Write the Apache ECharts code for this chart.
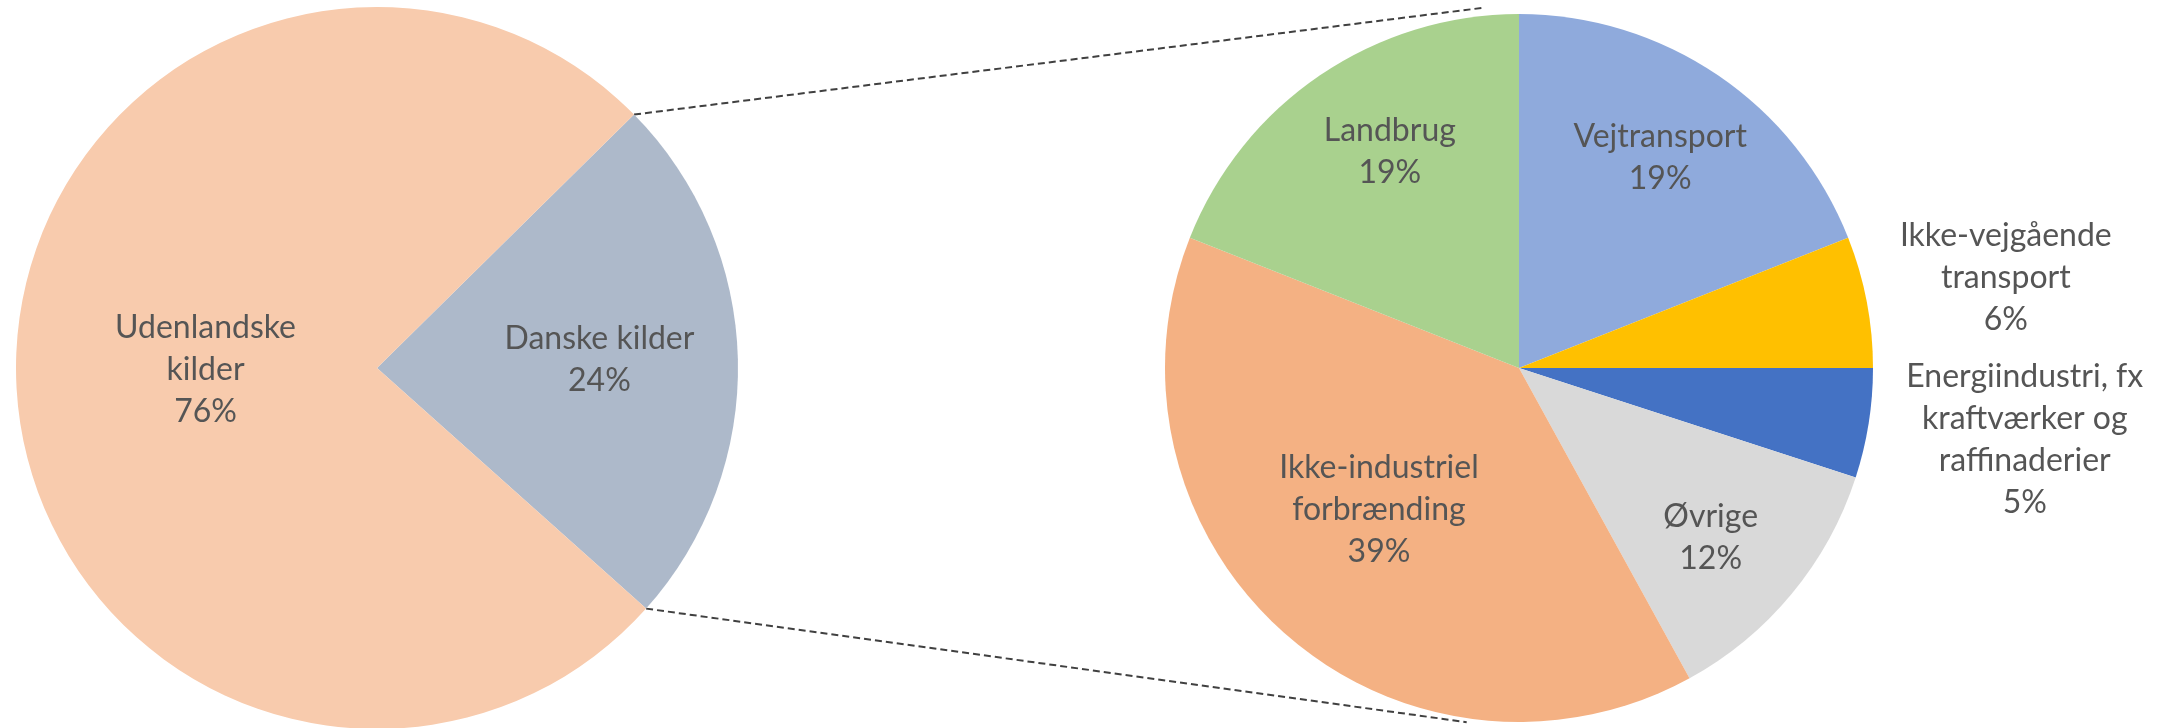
<!DOCTYPE html>
<html>
<head>
<meta charset="utf-8">
<script src="https://cdn.jsdelivr.net/npm/echarts@6/dist/echarts.min.js"></script>
<style>
html,body{margin:0;padding:0;background:#fff;}
#chart{width:2165px;height:728px;}
</style>
</head>
<body>
<div id="chart"></div>
<script>
// ---- data ----
const mainCategories = ['Danske kilder', 'Udenlandske\nkilder'];
const mainValues = [24, 76];
const subCategories = ['Vejtransport', 'Ikke-vejgående\ntransport', 'Energiindustri, fx\nkraftværker og\nraffinaderier', 'Øvrige', 'Ikke-industriel\nforbrænding', 'Landbrug'];
const subValues = [19, 6, 5, 12, 39, 19];

// ---- style ----
const mainColors = ['#ADB9CA', '#F8CBAD'];
const subColors = ['#8FAADC', '#FFC000', '#4472C4', '#D9D9D9', '#F4B183', '#A9D18E'];
const mainLabelShift = [[39, -4], [12, -3]];
const subLabelShift = [[40, -61], [310, -57], [328, 44], [53, 55], [-21, 7], [-28, -67]];
const mainCenter = [377, 368], mainRadius = 361, mainStart = 44.6;
const subCenter = [1519, 368], subRadius = 354;

const labelStyle = {
  show: true,
  position: 'inside',
  color: '#555555',
  fontFamily: 'Lato',
  fontSize: 32,
  lineHeight: 42,
  align: 'center',
  formatter: p => p.name + '\n' + p.value + '%'
};

function pt(c, r, deg) {
  const a = deg * Math.PI / 180;
  return [c[0] + r * Math.cos(a), c[1] - r * Math.sin(a)];
}
const mainTotal = mainValues.reduce((a, b) => a + b, 0);
const danskeSweep = mainValues[0] / mainTotal * 360;
const upStart = pt(mainCenter, mainRadius, mainStart);
const lowStart = pt(mainCenter, mainRadius, mainStart - danskeSweep);
const upEnd = pt(subCenter, subRadius + 8, 95.7);
const lowEnd = pt(subCenter, subRadius + 4, 261.6);

const chart = echarts.init(document.getElementById('chart'), null, {renderer: 'canvas'});
chart.setOption({
  animation: false,
  backgroundColor: '#ffffff',
  graphic: [
    {type: 'line', z: 1, shape: {x1: upStart[0], y1: upStart[1], x2: upEnd[0], y2: upEnd[1]},
     style: {stroke: '#404040', lineWidth: 2, lineDash: [7, 4]}},
    {type: 'line', z: 1, shape: {x1: lowStart[0], y1: lowStart[1], x2: lowEnd[0], y2: lowEnd[1]},
     style: {stroke: '#404040', lineWidth: 2, lineDash: [7, 4]}}
  ],
  series: [
    {
      type: 'pie',
      center: mainCenter,
      radius: [0, mainRadius],
      startAngle: mainStart,
      clockwise: true,
      avoidLabelOverlap: false,
      silent: true,
      label: labelStyle,
      labelLine: {show: false},
      labelLayout: p => ({dx: mainLabelShift[p.dataIndex][0], dy: mainLabelShift[p.dataIndex][1]}),
      itemStyle: {borderWidth: 0},
      data: mainCategories.map((n, i) => ({name: n, value: mainValues[i], itemStyle: {color: mainColors[i]}}))
    },
    {
      type: 'pie',
      center: subCenter,
      radius: [0, subRadius],
      startAngle: 90,
      clockwise: true,
      avoidLabelOverlap: false,
      silent: true,
      label: labelStyle,
      labelLine: {show: false},
      labelLayout: p => ({dx: subLabelShift[p.dataIndex][0], dy: subLabelShift[p.dataIndex][1]}),
      itemStyle: {borderWidth: 0},
      data: subCategories.map((n, i) => ({name: n, value: subValues[i], itemStyle: {color: subColors[i]}}))
    }
  ]
});
</script>
</body>
</html>
